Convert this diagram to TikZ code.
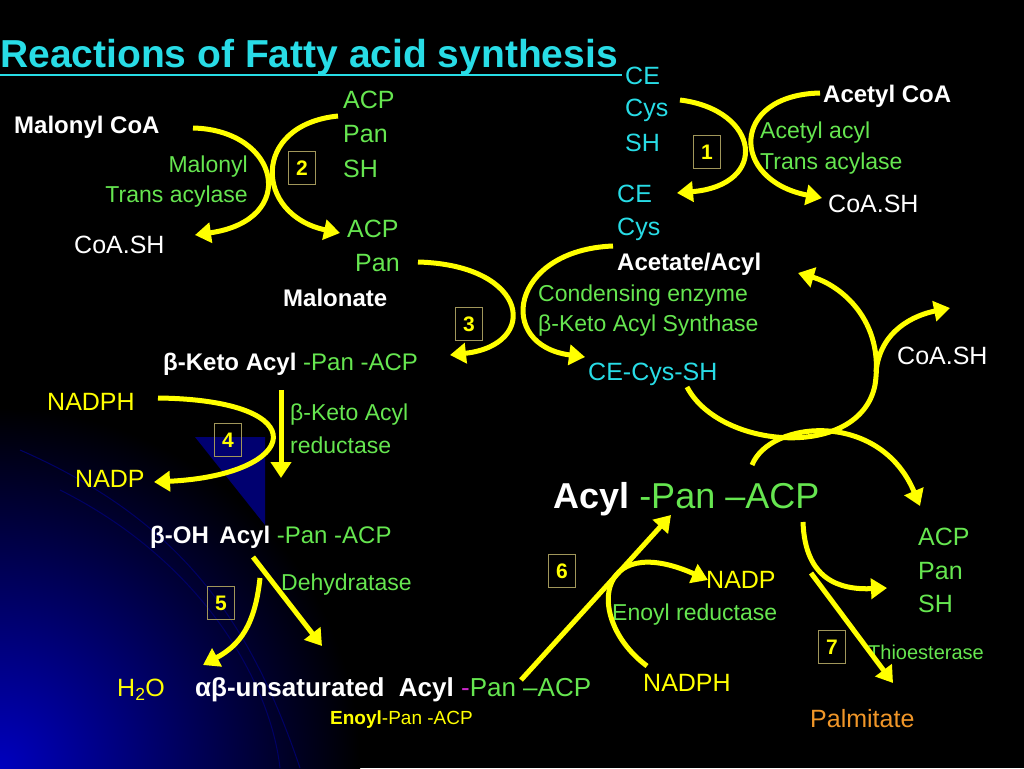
\documentclass[tikz,border=0pt]{standalone}
\usepackage{fontspec}
\setmainfont{Liberation Sans}
\usetikzlibrary{arrows.meta}
\definecolor{ycol}{RGB}{255,255,0}
\definecolor{gcol}{RGB}{102,230,80}
\definecolor{ccol}{RGB}{40,220,230}
\definecolor{bcol}{RGB}{160,150,90}
\definecolor{ocol}{RGB}{240,150,40}
\definecolor{mcol}{RGB}{200,40,200}
\begin{document}
\begin{tikzpicture}[x=1pt,y=-1pt,
  t/.style={anchor=west,inner sep=0pt,font=\fontsize{25}{27}\selectfont},
  tw/.style={t,text=white},
  tb/.style={t,text=white,font=\fontsize{24}{26}\selectfont\bfseries},
  tg/.style={t,text=gcol},
  tgs/.style={t,text=gcol,font=\fontsize{23}{25}\selectfont},
  tc/.style={t,text=ccol},
  ty/.style={t,text=ycol},
  num/.style={draw=bcol,line width=1.2pt,text=ycol,font=\fontsize{21}{22}\selectfont\bfseries,minimum width=27pt,minimum height=33pt,inner sep=0pt},
  arr/.style={draw=ycol,line width=5pt,-{Triangle[length=16pt,width=20pt]}},
  ln/.style={draw=ycol,line width=5pt}]
\fill[black] (0,0) rectangle (1024,768);
\useasboundingbox (0,0) rectangle (1024,768);
\begin{scope}
\clip (0,0) rectangle (1024,768);
\shade[inner color={rgb,255:red,0;green,0;blue,190}, outer color=black] (0,768) circle (360);
\fill[blue!55!black,opacity=.8] (195,437) -- (265,437) -- (265,525) -- cycle;
\draw[blue!40!black,line width=1pt] (20,450) .. controls (180,520) and (250,620) .. (300,768);
\draw[blue!40!black,line width=1pt] (60,490) .. controls (200,560) and (270,680) .. (280,768);
\end{scope}
% title
\node[t,text=ccol,font=\fontsize{39}{40}\selectfont\bfseries] (title) at (0,57) {Reactions of Fatty acid synthesis};
\draw[ccol,line width=2.5pt] (0,75) -- (622,75);
% reaction 1
\node[tc] (ce1) at (625,76) {CE};
\node[tc] (cys1) at (625,110) {Cys};
\node[tc] (sh1) at (625,143) {SH};
\node[tb] (acoa) at (823,96) {Acetyl CoA};
\node[tgs] (aa1) at (760,133) {Acetyl acyl};
\node[tgs] (aa2) at (760,164) {Trans acylase};
\node[num] (n1) at (707,152) {1};
\node[tw] (coash1) at (828,204) {CoA.SH};
\node[tc] (ce2) at (617,194) {CE};
\node[tc] (cys2) at (617,229) {Cys};
\node[tb] (acet) at (617,264) {Acetate/Acyl};
\draw[arr] (680,100) .. controls (760,110) and (770,185) .. (677,193);
\draw[arr] (820,93) .. controls (730,95) and (730,180) .. (822,198);
% reaction 2
\node[tb] (mcoa) at (14,127) {Malonyl CoA};
\node[tg] (acp1) at (343,100) {ACP};
\node[tg] (pan1) at (343,134) {Pan};
\node[tg] (sh2) at (343,169) {SH};
\node[tgs,anchor=east] (mt1) at (248,167) {Malonyl};
\node[tgs,anchor=east] (mt2) at (248,197) {Trans acylase};
\node[num] (n2) at (302,168) {2};
\node[tw] (coash2) at (74,245) {CoA.SH};
\node[tg] (acp2) at (347,229) {ACP};
\node[tg] (pan2) at (355,263) {Pan};
\node[tb] (malon) at (283,298) {Malonate};
\draw[arr] (193,128) .. controls (280,130) and (300,220) .. (195,235);
\draw[arr] (338,116) .. controls (250,125) and (255,215) .. (340,233);
% reaction 3
\node[tgs] (cond1) at (538,296) {Condensing enzyme};
\node[tgs] (cond2) at (538,326) {β-Keto Acyl Synthase};
\node[num] (n3) at (469,324) {3};
\node[tc] (cecys) at (588,374) {CE-Cys-SH};
\node[tw] (coash3) at (897,356) {CoA.SH};
\node[tb] (bka) at (163,364) {β-Keto Acyl \textcolor{gcol}{\mdseries-Pan -ACP}};
\draw[arr] (418,262) .. controls (530,265) and (540,345) .. (450,355);
\draw[arr] (613,246) .. controls (510,250) and (495,345) .. (585,357);
% loop
\draw[arr] (687,387) .. controls (720,450) and (860,460) .. (875,385) .. controls (885,320) and (840,285) .. (798,273);
\draw[arr] (876,372) .. controls (880,330) and (915,315) .. (950,308);
\draw[arr] (752,465) .. controls (770,420) and (880,410) .. (920,506);
% reaction 4
\node[ty] (nadph1) at (47,402) {NADPH};
\node[tgs] (bkr1) at (290,415) {β-Keto Acyl};
\node[tgs] (bkr2) at (290,445) {reductase};
\node[num] (n4) at (228,440) {4};
\node[ty] (nadp1) at (75,479) {NADP};
\draw[arr] (158,398) .. controls (320,400) and (300,475) .. (154,482);
\draw[arr] (281,390) -- (281,478);
% reaction 5
\node[tb] (boh) at (150,537) {β-OH\,\ Acyl \textcolor{gcol}{\mdseries-Pan -ACP}};
\node[tgs] (dehy) at (281,585) {Dehydratase};
\node[num] (n5) at (221,603) {5};
\node[ty] (h2o) at (117,690) {H\textsubscript{2}O};
\node[tb,font=\fontsize{26}{28}\selectfont\bfseries] (unsat) at (195,690) {αβ-unsaturated\ \ Acyl \textcolor{mcol}{\mdseries-}\textcolor{gcol}{\mdseries Pan --ACP}};
\node[ty,font=\fontsize{19}{21}\selectfont] (enoyl) at (330,720) {\textbf{Enoyl}-Pan -ACP};
\draw[arr] (253,557) -- (322,646);
\draw[arr] (260,578) .. controls (255,625) and (240,645) .. (203,665);
% reaction 6
\node[tb,font=\fontsize{36}{38}\selectfont\bfseries] (acyl) at (553,499) {Acyl \textcolor{gcol}{\mdseries-Pan --ACP}};
\node[num] (n6) at (562,571) {6};
\node[ty] (nadp2) at (706,580) {NADP};
\node[tgs] (enr) at (612,615) {Enoyl reductase};
\node[ty] (nadph2) at (643,683) {NADPH};
\draw[arr] (521,680) -- (671,515);
\draw[arr] (647,666) .. controls (585,620) and (595,530) .. (708,580);
% reaction 7
\node[tg] (acp3) at (918,537) {ACP};
\node[tg] (pan3) at (918,571) {Pan};
\node[tg] (sh3) at (918,604) {SH};
\node[num] (n7) at (832,647) {7};
\node[tg,font=\fontsize{20}{22}\selectfont] (thio) at (868,652) {Thioesterase};
\node[t,text=ocol] (palm) at (810,719) {Palmitate};
\draw[arr] (803,522) .. controls (805,580) and (840,590) .. (887,588);
\draw[arr] (811,573) -- (893,683);
\end{tikzpicture}
\end{document}
